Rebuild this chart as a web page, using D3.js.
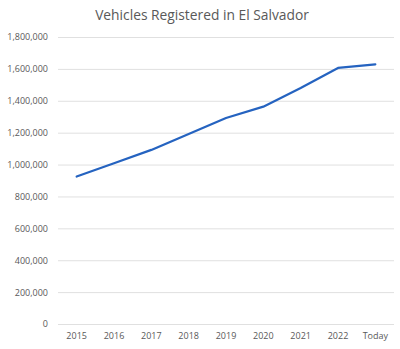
<!DOCTYPE html>
<html>
<head>
<meta charset="utf-8">
<script src="https://cdn.jsdelivr.net/npm/d3@7"></script>
<style>
  body { margin: 0; background: #fff; }
  text { font-family: "Open Sans", "Liberation Sans", sans-serif; }
</style>
</head>
<body>
<svg width="400" height="349"></svg>
<script>
// chart data
var categories = ['2015', '2016', '2017', '2018', '2019', '2020', '2021', '2022', 'Today'];
var vehicles = [925000, 1008000, 1092000, 1192000, 1292000, 1363000, 1480000, 1606000, 1628000];
var yTicks = [0, 200000, 400000, 600000, 800000, 1000000, 1200000, 1400000, 1600000, 1800000];

var svg = d3.select('svg'),
    plotLeft = 58,
    plotRight = 394,
    plotTop = 37,
    plotBottom = 324;

var x = d3.scaleBand().domain(categories).range([plotLeft, plotRight]);
var y = d3.scaleLinear().domain([0, 1800000]).range([plotBottom, plotTop]);

// title
svg.append('text')
    .attr('x', 202)
    .attr('y', 20)
    .attr('text-anchor', 'middle')
    .attr('fill', '#595959')
    .attr('font-size', 13.8)
    .text('Vehicles Registered in El Salvador');

// gridlines + y labels
var yAxis = svg.append('g')
    .attr('transform', `translate(${plotLeft}, 0)`)
    .call(d3.axisLeft(y).tickValues(yTicks).tickSize(-(plotRight - plotLeft)).tickPadding(10)
        .tickFormat(d3.format(',')));
yAxis.select('.domain').remove();
yAxis.selectAll('line').attr('stroke', '#e0e0e0');
yAxis.selectAll('text').attr('fill', '#595959').attr('font-size', 9);

// x labels
var xAxis = svg.append('g')
    .attr('transform', `translate(0, ${plotBottom})`)
    .call(d3.axisBottom(x).tickSize(0).tickPadding(9));
xAxis.select('.domain').remove();
xAxis.selectAll('text').attr('fill', '#595959').attr('font-size', 9);

// line
var line = d3.line()
    .x(function(d, i) { return x(categories[i]) + x.bandwidth() / 2; })
    .y(function(d) { return y(d); });

svg.append('path')
    .datum(vehicles)
    .attr('fill', 'none')
    .attr('stroke', '#2563c0')
    .attr('stroke-width', 2.2)
    .attr('stroke-linejoin', 'round')
    .attr('stroke-linecap', 'round')
    .attr('d', line);
</script>
</body>
</html>
